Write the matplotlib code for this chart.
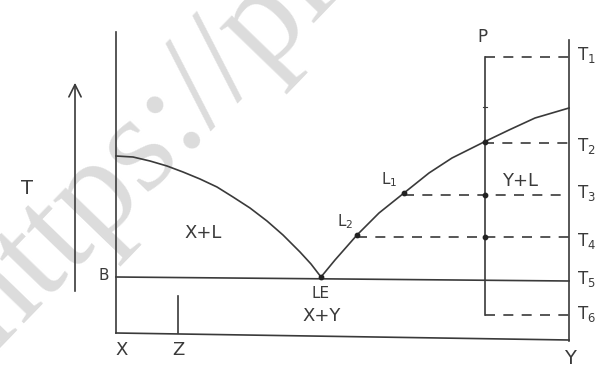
import matplotlib.pyplot as plt

# sketch, in picture pixels (y grows downward)
left_curve_x = [116, 133, 150, 167, 183, 200, 217, 233, 250, 267, 283, 300, 311, 321]
left_curve_y = [156, 157, 161, 166, 172, 179, 187, 197, 208, 221, 235, 252, 264, 277]
right_curve_x = [321, 335, 357, 379, 404, 429, 452, 484, 509, 535, 569]
right_curve_y = [277, 260, 235, 213, 193, 173, 158, 142, 130, 118, 108]

# cooling path of P and the isotherms T1..T6
p_x = 485
temp_names = ['T$_1$', 'T$_2$', 'T$_3$', 'T$_4$', 'T$_5$', 'T$_6$']
temp_y = [57, 143, 195, 237, 280, 315]
dash_start = [485, 484, 404, 357, 116, 485]
label_y = [55, 146, 193, 241, 279, 314]
dots_x = [321, 357, 404, 485, 485, 485]
dots_y = [277, 235, 193, 142, 195, 237]

fig = plt.figure(figsize=(6.04, 3.73), dpi=100)
ax = fig.add_axes([0, 0, 1, 1])
ax.set_xlim(0, 604)
ax.set_ylim(373, 0)
ax.axis('off')

ink = '#3a3a3a'
lw = 1.2

# faint watermark, cut by the edges like in the source picture
ax.text(-4, 351, 'https://pi', fontsize=100, family='Liberation Serif', color='#dcdcdc',
        rotation=46, rotation_mode='anchor', ha='left', va='baseline', zorder=0)

# frame: left axis, bottom, right axis
ax.plot([116, 116], [32, 333], color=ink, lw=lw)
ax.plot([116, 569], [333, 340], color=ink, lw=lw)
ax.plot([569, 569], [40, 341], color=ink, lw=lw)

# eutectic line at B
ax.plot([116, 569], [277, 281], color=ink, lw=lw)

# liquidus curves
ax.plot(left_curve_x, left_curve_y, color=ink, lw=lw)
ax.plot(right_curve_x, right_curve_y, color=ink, lw=lw)

# vertical line for P
ax.plot([p_x, p_x], [57, 315], color=ink, lw=lw)
ax.plot([p_x - 2, p_x + 2], [107, 107], color=ink, lw=0.8)

# dashed isotherms
for i in range(len(temp_y)):
    if i != 4:
        ax.plot([dash_start[i], 569], [temp_y[i], temp_y[i]], color=ink, lw=lw,
                linestyle=(0, (6, 5)))
    ax.text(577, label_y[i], temp_names[i], fontsize=12, color=ink, va='center', ha='left')

ax.scatter(dots_x, dots_y, s=10, color='#222222', zorder=3)

# temperature arrow
ax.annotate('', xy=(75, 80), xytext=(75, 294),
            arrowprops=dict(arrowstyle='->', color=ink, lw=lw, mutation_scale=22))
ax.text(27, 188, 'T', fontsize=14, color=ink, ha='center', va='center')

# Z composition marker
ax.plot([178, 178], [296, 333], color=ink, lw=lw)

# labels
ax.text(104, 276, 'B', fontsize=11, color=ink, ha='center', va='center')
ax.text(122, 350, 'X', fontsize=13, color=ink, ha='center', va='center')
ax.text(178, 350, 'Z', fontsize=13, color=ink, ha='center', va='center')
ax.text(570, 358, 'Y', fontsize=14, color=ink, ha='center', va='center')
ax.text(482, 37, 'P', fontsize=12, color=ink, ha='center', va='center')
ax.text(203, 233, 'X+L', fontsize=13, color=ink, ha='center', va='center')
ax.text(520, 181, 'Y+L', fontsize=13, color=ink, ha='center', va='center')
ax.text(321, 294, 'LE', fontsize=11, color=ink, ha='center', va='center')
ax.text(322, 316, 'X+Y', fontsize=13, color=ink, ha='center', va='center')
ax.text(389, 180, 'L$_1$', fontsize=11, color=ink, ha='center', va='center')
ax.text(345, 222, 'L$_2$', fontsize=11, color=ink, ha='center', va='center')

fig.savefig('out.png', dpi=100)
